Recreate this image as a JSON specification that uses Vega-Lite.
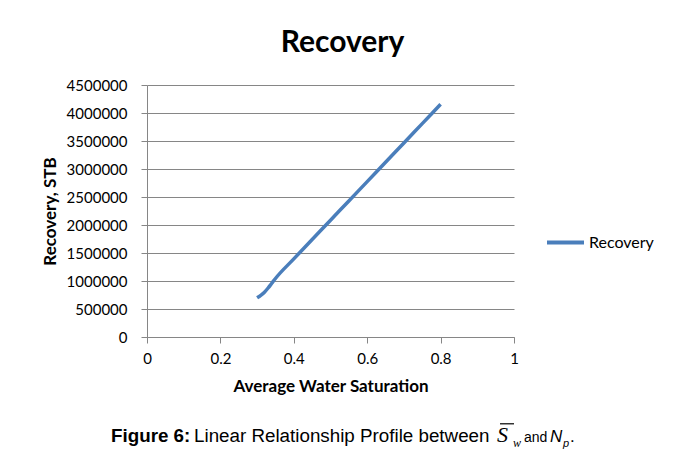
{
  "$schema": "https://vega.github.io/schema/vega-lite/v6.json",
  "width": 367,
  "height": 252,
  "padding": {"left": 41, "top": 28, "right": 0, "bottom": 0},
  "background": "white",
  "title": {"text": "Recovery", "fontSize": 30, "font": "Lato", "fontWeight": "bold", "color": "#000000", "offset": 20, "dx": 12},
  "config": {"view": {"stroke": null}, "font": "Lato"},
  "resolve": {"axis": {"x": "independent", "y": "independent"}},
  "layer": [
    {
      "data": {"values": [
        {"sw": 0.30, "np": 700000, "series": "Recovery"},
        {"sw": 0.31, "np": 745000, "series": "Recovery"},
        {"sw": 0.32, "np": 800000, "series": "Recovery"},
        {"sw": 0.33, "np": 875000, "series": "Recovery"},
        {"sw": 0.34, "np": 960000, "series": "Recovery"},
        {"sw": 0.35, "np": 1045000, "series": "Recovery"},
        {"sw": 0.40, "np": 1395000, "series": "Recovery"},
        {"sw": 0.45, "np": 1740000, "series": "Recovery"},
        {"sw": 0.50, "np": 2085000, "series": "Recovery"},
        {"sw": 0.55, "np": 2430000, "series": "Recovery"},
        {"sw": 0.60, "np": 2775000, "series": "Recovery"},
        {"sw": 0.65, "np": 3120000, "series": "Recovery"},
        {"sw": 0.70, "np": 3465000, "series": "Recovery"},
        {"sw": 0.75, "np": 3810000, "series": "Recovery"},
        {"sw": 0.80, "np": 4155000, "series": "Recovery"}
      ]},
      "mark": {"type": "line", "interpolate": "monotone", "strokeWidth": 3.5},
      "encoding": {
        "x": {"field": "sw", "type": "quantitative", "scale": {"domain": [0, 1]},
          "axis": {"values": [0, 0.2, 0.4, 0.6, 0.8, 1], "format": "~g", "grid": false, "domainColor": "#868686", "tickColor": "#868686", "tickSize": 6, "labelFontSize": 15, "labelColor": "#000000", "labelPadding": 8, "labelFlush": false, "labelOverlap": false, "title": "Average Water Saturation", "titleFontSize": 17, "titleFontWeight": "bold", "titleColor": "#000000", "titlePadding": 12}},
        "y": {"field": "np", "type": "quantitative", "scale": {"domain": [0, 4500000]},
          "axis": {"values": [0, 500000, 1000000, 1500000, 2000000, 2500000, 3000000, 3500000, 4000000, 4500000], "format": "d", "grid": true, "gridColor": "#868686", "domainColor": "#868686", "tickColor": "#868686", "tickSize": 6, "labelFontSize": 15, "labelColor": "#000000", "labelPadding": 14, "labelOverlap": false, "title": "Recovery, STB", "titleFontSize": 17, "titleFontWeight": "bold", "titleColor": "#000000", "titlePadding": 7}},
        "color": {"field": "series", "type": "nominal", "scale": {"range": ["#4a7ebb"]},
          "legend": {"orient": "none", "legendX": 398, "legendY": 137, "title": null, "symbolType": "stroke", "symbolSize": 1369, "symbolStrokeWidth": 4, "labelFontSize": 16, "labelColor": "#000000", "labelOffset": 3}}
      }
    },
    {
      "data": {"values": [{"t": "Figure 6:"}]},
      "mark": {"type": "text", "align": "left", "baseline": "alphabetic", "font": "Liberation Sans", "fontSize": 18.8, "fontWeight": "bold", "color": "#000000"},
      "encoding": {"x": {"datum": -0.0981, "type": "quantitative", "axis": null}, "y": {"datum": -1875000, "type": "quantitative", "axis": null}, "text": {"field": "t"}}
    },
    {
      "data": {"values": [{"t": "Linear Relationship Profile between"}]},
      "mark": {"type": "text", "align": "left", "baseline": "alphabetic", "font": "Liberation Sans", "fontSize": 18.8, "color": "#000000"},
      "encoding": {"x": {"datum": 0.1281, "type": "quantitative", "axis": null}, "y": {"datum": -1875000, "type": "quantitative", "axis": null}, "text": {"field": "t"}}
    },
    {
      "data": {"values": [{"t": "S"}]},
      "mark": {"type": "text", "align": "left", "baseline": "alphabetic", "font": "Liberation Serif", "fontSize": 22, "fontStyle": "italic", "color": "#000000"},
      "encoding": {"x": {"datum": 0.9537, "type": "quantitative", "axis": null}, "y": {"datum": -1875000, "type": "quantitative", "axis": null}, "text": {"field": "t"}}
    },
    {
      "data": {"values": [{"t": "w"}]},
      "mark": {"type": "text", "align": "left", "baseline": "alphabetic", "font": "Liberation Serif", "fontSize": 12, "fontStyle": "italic", "color": "#000000", "dy": 5},
      "encoding": {"x": {"datum": 0.9973, "type": "quantitative", "axis": null}, "y": {"datum": -1875000, "type": "quantitative", "axis": null}, "text": {"field": "t"}}
    },
    {
      "data": {"values": [{"a": 0.9619, "b": 1.0}]},
      "mark": {"type": "rule", "color": "#000000", "strokeWidth": 1.2},
      "encoding": {"x": {"field": "a", "type": "quantitative", "axis": null}, "x2": {"field": "b"}, "y": {"datum": -1550000, "type": "quantitative", "axis": null}}
    },
    {
      "data": {"values": [{"t": "and"}]},
      "mark": {"type": "text", "align": "left", "baseline": "alphabetic", "font": "Liberation Sans", "fontSize": 14, "color": "#000000"},
      "encoding": {"x": {"datum": 1.0272, "type": "quantitative", "axis": null}, "y": {"datum": -1875000, "type": "quantitative", "axis": null}, "text": {"field": "t"}}
    },
    {
      "data": {"values": [{"t": "N"}]},
      "mark": {"type": "text", "align": "left", "baseline": "alphabetic", "font": "Liberation Sans", "fontSize": 17, "fontStyle": "italic", "color": "#000000"},
      "encoding": {"x": {"datum": 1.0981, "type": "quantitative", "axis": null}, "y": {"datum": -1875000, "type": "quantitative", "axis": null}, "text": {"field": "t"}}
    },
    {
      "data": {"values": [{"t": "p"}]},
      "mark": {"type": "text", "align": "left", "baseline": "alphabetic", "font": "Liberation Sans", "fontSize": 11, "fontStyle": "italic", "color": "#000000", "dy": 5},
      "encoding": {"x": {"datum": 1.1335, "type": "quantitative", "axis": null}, "y": {"datum": -1875000, "type": "quantitative", "axis": null}, "text": {"field": "t"}}
    },
    {
      "data": {"values": [{"t": "."}]},
      "mark": {"type": "text", "align": "left", "baseline": "alphabetic", "font": "Liberation Sans", "fontSize": 17, "color": "#000000"},
      "encoding": {"x": {"datum": 1.1526, "type": "quantitative", "axis": null}, "y": {"datum": -1875000, "type": "quantitative", "axis": null}, "text": {"field": "t"}}
    }
  ]
}
